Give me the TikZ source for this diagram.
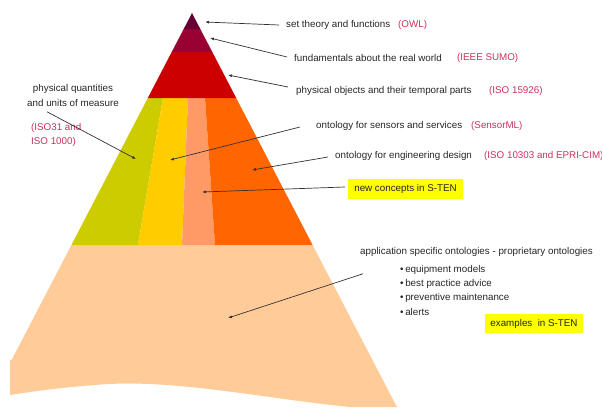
\documentclass[tikz,border=0pt]{standalone}
\usepackage{fontspec}
\setmainfont{Liberation Sans}
\usetikzlibrary{arrows.meta}
\definecolor{ctop}{HTML}{660033}
\definecolor{ccrim}{HTML}{990033}
\definecolor{cred}{HTML}{CC0000}
\definecolor{cgreen}{HTML}{CCCC00}
\definecolor{cyel}{HTML}{FFCC00}
\definecolor{csalm}{HTML}{FF9966}
\definecolor{corange}{HTML}{FF6600}
\definecolor{cpeach}{HTML}{FFCC99}
\definecolor{cref}{RGB}{200,50,90}
\definecolor{hl}{HTML}{FFFF00}
\tikzset{
  lbl/.style={anchor=west, inner sep=0pt, text=black!85, font=\fontsize{9.8}{12}\selectfont},
  reflbl/.style={lbl, text=cref},
  hlbox/.style={fill=hl, inner sep=0pt, text=black!85, font=\fontsize{9.8}{12}\selectfont},
  pointer/.style={draw=black!80, line width=0.7pt, -{Latex[length=4pt,width=3pt]}}
}
\begin{document}
\begin{tikzpicture}[x=1pt,y=-1pt]
\useasboundingbox (0,0) rectangle (602,407);
% pyramid layers
\fill[cpeach] (71.4,245) -- (312.6,245) -- (396.9,407) -- (350,407)
  .. controls (260,398) and (170,378) .. (95,385)
  .. controls (55,388) and (30,392) .. (10,395) -- (10,360) -- (11.6,360) -- cycle;
\fill[cgreen] (71.4,245) -- (147.8,98) -- (163,98) -- (138,245) -- cycle;
\fill[cyel] (138,245) -- (163,98) -- (188,98) -- (182,245) -- cycle;
\fill[csalm] (182,245) -- (188,98) -- (205,98) -- (215,245) -- cycle;
\fill[corange] (215,245) -- (205,98) -- (236.2,98) -- (312.6,245) -- cycle;
\fill[cred] (147.8,98) -- (171.7,52) -- (212.3,52) -- (236.2,98) -- cycle;
\fill[ccrim] (171.7,52) -- (183.7,29) -- (200.3,29) -- (212.3,52) -- cycle;
\fill[ctop] (183.7,29) -- (192,13) -- (200.3,29) -- cycle;

% labels
\node[lbl] (t1) at (286,25) {set theory and functions};
\node[reflbl] (r1) at (398,25) {(OWL)};
\node[lbl] (t2) at (294,58) {fundamentals about the real world};
\node[reflbl] (r2) at (457,58) {(IEEE SUMO)};
\node[lbl] (t3) at (296,91) {physical objects and their temporal parts};
\node[reflbl] (r3) at (489,91) {(ISO 15926)};
\node[lbl] (t4) at (316,126) {ontology for sensors and services};
\node[reflbl] (r4) at (471,126) {(SensorML)};
\node[lbl] (t5) at (335,156) {ontology for engineering design};
\node[reflbl] (r5) at (484,156) {(ISO 10303 and EPRI-CIM)};
\node[hlbox, minimum width=115pt, minimum height=20pt] (t6) at (405.5,189) {new concepts in S-TEN};
\node[lbl, anchor=center, align=center, font=\fontsize{9.8}{15}\selectfont] (tq) at (73,95.5) {physical quantities\\and units of measure};
\node[reflbl, align=left, font=\fontsize{9.8}{14}\selectfont] (rq) at (31,135) {(ISO31 and\\ISO 1000)};
\node[lbl] (ta) at (360,252) {application specific ontologies - proprietary ontologies};
\node[lbl, anchor=north west, align=left, font=\fontsize{9.8}{14.3}\selectfont] (tb) at (400,265)
  {\textbullet\,equipment models\\\textbullet\,best practice advice\\\textbullet\,preventive maintenance\\\textbullet\,alerts};
\node[hlbox, minimum width=98pt, minimum height=19pt] (te) at (534,323.5) {examples\ \ in S-TEN};

% arrow targets
\coordinate (p1) at (205,22);
\coordinate (p2) at (210,38);
\coordinate (p3) at (228,75);
\coordinate (p4) at (170,160);
\coordinate (p5) at (252,170);
\coordinate (p6) at (202,192);
\coordinate (pq) at (136,159);
\coordinate (pa) at (228,318);

\draw[pointer] ([xshift=-7pt]t1.west) -- (p1);
\draw[pointer] ([xshift=-7pt,yshift=1pt]t2.west) -- (p2);
\draw[pointer] ([xshift=-8pt,yshift=4pt]t3.west) -- (p3);
\draw[pointer] ([xshift=-16pt,yshift=-1pt]t4.west) -- (p4);
\draw[pointer] ([xshift=-7pt,yshift=-1pt]t5.west) -- (p5);
\draw[pointer] ([xshift=-3pt,yshift=2pt]t6.west) -- (p6);
\draw[pointer] ([xshift=20pt,yshift=-5pt]tq.south west) -- (pq);
\draw[pointer] ([xshift=3pt,yshift=-17pt]ta.south west) -- (pa);
\end{tikzpicture}
\end{document}
